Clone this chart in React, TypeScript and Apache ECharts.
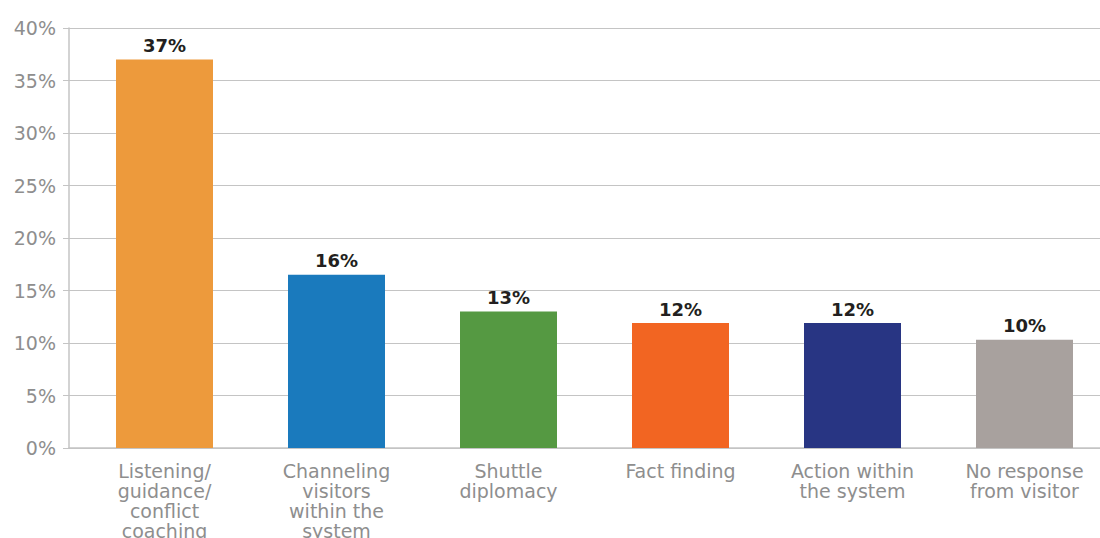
import React, { useEffect, useRef } from "react";
import * as echarts from "echarts";

const categories = [
  "Listening/\nguidance/\nconflict\ncoaching",
  "Channeling\nvisitors\nwithin the\nsystem",
  "Shuttle\ndiplomacy",
  "Fact finding",
  "Action within\nthe system",
  "No response\nfrom visitor",
];
const values = [37, 16.5, 13, 11.9, 11.9, 10.3];
const valueLabels = ["37%", "16%", "13%", "12%", "12%", "10%"];
const barColors = ["#ED9A3C", "#1A7ABD", "#559942", "#F26522", "#283583", "#A8A19E"];
const yTicks = [0, 5, 10, 15, 20, 25, 30, 35, 40];

const FONT = "DejaVu Sans";

export default function App() {
  const ref = useRef<HTMLDivElement>(null);
  useEffect(() => {
    if (!ref.current) return;
    const chart = echarts.init(ref.current, undefined, { renderer: "svg" });
    chart.setOption({
      animation: false,
      backgroundColor: "#ffffff",
      grid: [
        { left: 69, right: 0, top: 28, bottom: 90, outerBoundsMode: "none", containLabel: false },
        { left: 78.5, width: 1032, top: 28, bottom: 90, outerBoundsMode: "none", containLabel: false },
      ],
      xAxis: [
        {
          gridIndex: 0,
          type: "value",
          min: 0,
          max: 1,
          show: true,
          axisLine: { show: true, lineStyle: { color: "#c4c4c4", width: 1.5 } },
          axisTick: { show: false },
          axisLabel: { show: false },
          splitLine: { show: false },
        },
        {
          gridIndex: 1,
          type: "category",
          data: categories,
          axisLine: { show: false },
          axisTick: { show: false },
          axisLabel: {
            interval: 0,
            margin: 13,
            color: "#8e8e8e",
            fontFamily: FONT,
            fontSize: 19,
            lineHeight: 20,
            align: "center",
          },
        },
      ],
      yAxis: [
        {
          gridIndex: 0,
          type: "value",
          min: 0,
          max: 40,
          interval: 5,
          axisLine: { show: true, lineStyle: { color: "#c4c4c4", width: 1.5 } },
          axisTick: { show: true, length: 6, lineStyle: { color: "#c4c4c4" } },
          splitLine: { show: true, lineStyle: { color: "#c4c4c4", width: 1 } },
          axisLabel: {
            margin: 13,
            color: "#8e8e8e",
            fontFamily: FONT,
            fontSize: 19,
            formatter: (v: number) => (yTicks.includes(v) ? v + "%" : ""),
          },
        },
        {
          gridIndex: 1,
          type: "value",
          min: 0,
          max: 40,
          interval: 5,
          show: false,
          splitLine: { show: false },
        },
      ],
      series: [
        {
          type: "bar",
          xAxisIndex: 1,
          yAxisIndex: 1,
          barWidth: 97,
          data: values.map((v, i) => ({ value: v, itemStyle: { color: barColors[i] } })),
          label: {
            show: true,
            position: "top",
            distance: 5,
            color: "#231f20",
            fontFamily: FONT,
            fontWeight: "bold",
            fontSize: 18,
            formatter: (p: any) => valueLabels[p.dataIndex],
          },
        },
      ],
    });
    return () => chart.dispose();
  }, []);
  return (
    <div
      ref={ref}
      style={{ position: "fixed", left: 0, top: 0, width: 1100, height: 538, background: "#fff" }}
    />
  );
}
